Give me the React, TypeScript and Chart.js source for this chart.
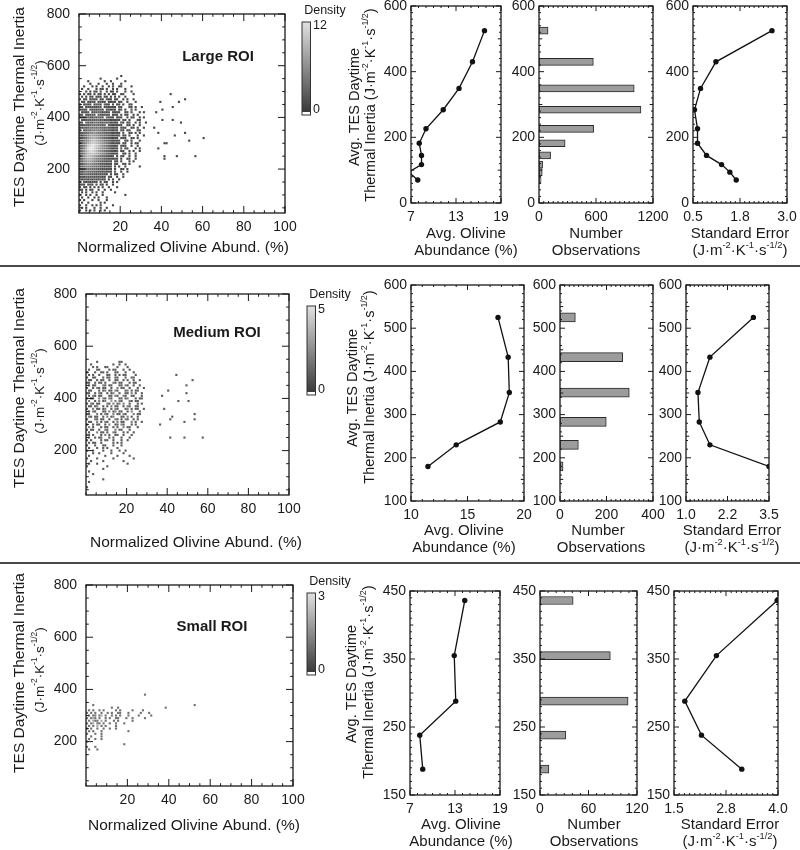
import React, { useEffect, useRef } from 'react';
import { Chart, registerables } from 'chart.js';

Chart.register(...registerables);

const FONT = "'Liberation Sans', Arial, Helvetica, sans-serif";
const INK = '#1a1a1a';
Chart.defaults.font.family = FONT;
Chart.defaults.color = INK;

// ======================= DATA =======================
// Heat-map tick values (shared)
const heatXTicks = [20, 40, 60, 80, 100];
const heatYTicks = [200, 400, 600, 800];

// ---- Large ROI ----
const largeTIBins = [525, 430, 349, 284, 226, 182, 145, 117, 94, 70];
const largeAvgOlivine = [16.8, 15.2, 13.4, 11.3, 9.0, 8.1, 8.4, 8.4, 6.7, 7.9];
const largeNumObs = [95, 572, 1002, 1073, 575, 275, 122, 38, 34, 22];
const largeStdErr = [2.6, 1.11, 0.7, 0.54, 0.62, 0.62, 0.86, 1.26, 1.48, 1.65];
const largeOlivTicks = [7, 13, 19];
const largeObsTicks = [0, 600, 1200];
const largeErrTicks = [0.5, 1.75, 3.0];
const largeErrLabels = ['0.5', '1.8', '3.0'];
const largeTITicks = [0, 200, 400, 600];
const largeDensityMax = 12;
// density grid: rows from TI=560 down to 40 (step 10), column = olivine % (1 per char); hex digit = count
const largeGrid = [
  '....................1',
  '..........1.......1',
  '....1.......1..1......1',
  '.....1...1...1..1...1',
  '..1...1.1..1..1.1..11....1',
  '.1..1...1.11.1..1.1...1',
  '...1.1.11.1..1.11.1...1..1',
  '1.1.11.1.11.1.1.11..11....1',
  '.1.1.11.111.11.1.1.1..1',
  '1.11.1211.11.211.11..1.1..1',
  '.11.1121.1211.1121.11..1...1',
  '1.1211.1221.211.1.11.1..11',
  '11.12121122.121211.21...11.1..1',
  '1211.2121221.12121.12.1..1.1',
  '.1212.122321212.2121..11.1...1.1',
  '12.21232.321222.121.2.11..1.1',
  '121232132322.3221.121..1.11..1.1',
  '.2123232332312212121.21.1...11',
  '12.3232433223231211.21.11..1.1..1',
  '2123234343323.2212121..11.1..1',
  '1232343434332322121.211..11.1..1',
  '2.23435454432322121.21.11...11',
  '12334556544332321211.2..11.1.1',
  '21345676654433221212.11.1...1..1',
  '1234678876543322121.211..11.1',
  '22456899876543321212..11.1...1',
  '134689aa987654321211.21..1.11',
  '2357abcba9765432212.211..1..1',
  '1358bccb98765432121.2.11...1.1',
  '2468abba97654332212.11..1.1..1',
  '135799a987654322121..11.1..1',
  '24689987654332212.1.21..1..1',
  '1357887654432212121.1..11..1',
  '2356776543322121.21.1...1.1',
  '1245665443222121.21..11.1',
  '2345554433221212.1.1..1......1',
  '1234443332212121.1..11.1',
  '2134333221212121.2..1..1',
  '12333222121211.1.11..1',
  '1213222121211.21..1..1',
  '2122121211211.1.1..1',
  '1.2121211.1.11..1.1',
  '121.121.1.11.1..1',
  '1.11.1.1.1.1..1...1',
  '11.1.11..1..1..1',
  '.1.1..1.1..1.....1',
  '1..1.1..1..1..........1',
  '.1..1..1.1...1',
  '1.1...1..1...1',
  '.1..1.....1.1',
  '1..1..1.1.1.....1',
  '.1.1...1..1..1',
  '1..1.1.1..1.1',
];
const largeGridTop = 560;
const largeOutliers = [
  [44.5, 490, 1], [39.5, 460, 1], [48.5, 460, 1], [51.5, 470, 1], [45.5, 440, 1], [40.5, 430, 1],
  [37.5, 420, 1], [40.5, 390, 1], [45.5, 390, 1], [49.5, 380, 1], [36.5, 360, 1], [38.5, 340, 1],
  [51.5, 340, 1], [46.5, 330, 1], [60.5, 320, 1], [53.5, 310, 1], [41.5, 300, 1], [42.5, 300, 1],
  [38.5, 280, 1], [56.5, 250, 1], [47.5, 250, 1], [41.5, 250, 1], [41.5, 240, 1],
];

// ---- Medium ROI ----
const mediumTIBins = [525, 433, 351, 283, 230, 180];
const mediumAvgOlivine = [17.7, 18.6, 18.7, 17.9, 14.0, 11.5];
const mediumNumObs = [66, 270, 298, 199, 79, 13];
const mediumStdErr = [3.03, 1.72, 1.36, 1.4, 1.72, 3.5];
const mediumOlivTicks = [10, 15, 20];
const mediumObsTicks = [0, 200, 400];
const mediumErrTicks = [1.0, 2.25, 3.5];
const mediumErrLabels = ['1.0', '2.2', '3.5'];
const mediumTITicks = [100, 200, 300, 400, 500, 600];
const mediumDensityMax = 5;
const mediumGrid = [
  '.....1..........11',
  '..1..........1..1..1',
  '...1.1...11....1....1',
  '.1...11....1.11...1..1',
  '1...1..11.1...11...1...1',
  '.1.1..1...11..1.1.11....1',
  '1..11...1.11..11...1..11',
  '.11..1.11..1..11..1.1..1..1',
  '11..1.11.1...21.11...1.11',
  '.1.11...21.11...11.21..1..1',
  '1..1.21.11..1..2.11..1...1..1',
  '.11...1.12.11.21...12.1.11',
  '11..1.21..1.12..1..11.2.1..1',
  '.1.21.11...11.21..21..11...1',
  '1.11..2.21.21...11.12...1.11',
  '.2..1.2.12..3.2.21...21.11',
  '1.21.11...21.2.12.2..1...1.1',
  '.11.12..1.1.2.11..1.21..11',
  '1..2.11.12..1.21...12.1.11..1',
  '.1.21...11.2.12.11..1.2...1',
  '11...2.1.21..2.11.21...2.11',
  '.21.11..1.2.12...11.2.1..1',
  '1...21.11..1..21.1.21..1.1',
  '.11..2.1.21..1.2.11...2.1..1',
  '1..1.11..1.2..11.21...1.1',
  '.2.1...1.11..1.1..2.11...1',
  '1.11..1..21...2.11...1',
  '.1...2.11.1..21...1.1..1',
  '11.1...1.2.1..11..1...1',
  '.1..1.11...1.1...1...1',
  '1.1....1.11..1...1..1',
  '.1.11..1.....1.1.1',
  '1...1...11...1...1',
  '.1...1..1.1....1',
  '1..1....1...1...1..1',
  '...1..1.....1.....1',
  '.1.......1.....1.....1',
  '1....1.......1.........1',
  '..1.....1.........1',
  '.1...1..............1',
  '1.........1',
  '........1',
  '.1',
  '...1',
  '',
  '........1',
  '.1',
  '',
  '1',
];
const mediumGridTop = 540;
const mediumOutliers = [
  [44.5, 490, 1], [52.5, 470, 1], [49.5, 450, 1], [40.5, 430, 1], [49.5, 420, 1], [45.5, 390, 1],
  [50.5, 390, 1], [42.5, 330, 1], [53.5, 340, 1], [53.5, 320, 1], [48.5, 310, 1], [41.5, 320, 1],
  [41.5, 250, 1], [48.5, 250, 1], [57.5, 250, 1], [36.5, 300, 1], [38.5, 360, 1], [37.5, 410, 1],
];

// ---- Small ROI ----
const smallTIBins = [436, 355, 288, 238, 188];
const smallAvgOlivine = [14.3, 12.9, 13.1, 8.3, 8.7];
const smallNumObs = [41, 87, 109, 32, 11];
const smallStdErr = [3.98, 2.52, 1.76, 2.16, 3.13];
const smallOlivTicks = [7, 13, 19];
const smallObsTicks = [0, 60, 120];
const smallErrTicks = [1.5, 2.75, 4.0];
const smallErrLabels = ['1.5', '2.8', '4.0'];
const smallTITicks = [150, 250, 350, 450];
const smallDensityMax = 3;
const smallGrid = [
  '............................1',
  '',
  '',
  '',
  '...1',
  '............1..1',
  '.1.1..1.1.....1.1.....1....1',
  '1.1.1..1..1.1..11...1.....1...1',
  '.1.11.12.1..1.1.1...1....1.....1',
  '1.121.1..1.1..11...1..1.....1',
  '.1.211.2.1...1.1......1',
  '1.12.11.1..1..1...1',
  '.1.1.2.1.1....1',
  '1.1..1..1..1..1',
  '.1.1...1............1',
  '1...1..1',
  '..1....1',
  '.1..1..1',
  '1',
  '..................1',
  '1...1',
  '.1...1',
];
const smallGridTop = 380;
const smallOutliers = [[52.5, 340, 1], [38.5, 330, 1]];

// ======================= HELPERS =======================
const PAGE_W = 800;
const PAGE_H = 850;
const Y_AXIS_W = 50;
const X_AXIS_H = 30;

type Area = { l: number; r: number; t: number; b: number };

const shade = (f: number) => {
  const g = Math.round(58 + 167 * Math.max(0, Math.min(1, f)));
  return `rgb(${g},${g},${g})`;
};

function gridToPoints(rows: string[], top: number, outl: number[][]) {
  const pts: { x: number; y: number; d: number }[] = [];
  rows.forEach((row, r) => {
    const y = top - 10 * r;
    for (let i = 0; i < row.length; i++) {
      const c = row[i];
      if (c === '.' || c === ' ') continue;
      pts.push({ x: i + 0.5, y, d: parseInt(c, 16) });
    }
  });
  outl.forEach(([x, y, d]) => pts.push({ x, y, d }));
  return pts;
}

function layoutFor(a: Area) {
  return {
    padding: {
      left: a.l - Y_AXIS_W,
      right: PAGE_W - a.r,
      top: a.t,
      bottom: PAGE_H - a.b - X_AXIS_H,
    },
  };
}

function axisCfg(min: number, max: number, ticks: number[], labels: string[], isX: boolean, pad: number) {
  return {
    type: 'linear',
    min,
    max,
    offset: false,
    grid: { display: false, drawTicks: false, offset: false },
    border: { display: false },
    ticks: {
      autoSkip: false,
      maxRotation: 0,
      minRotation: 0,
      padding: pad,
      font: { size: 14 },
      color: INK,
      callback: (_v: any, i: number) => labels[i],
    },
    afterBuildTicks: (s: any) => {
      s.ticks = ticks.map((v) => ({ value: v }));
    },
    afterFit: (s: any) => {
      if (isX) s.height = X_AXIS_H;
      else s.width = Y_AXIS_W;
      s.paddingLeft = 0;
      s.paddingRight = 0;
      s.paddingTop = 0;
      s.paddingBottom = 0;
    },
  };
}

type FrameOpts = {
  xMajor: number[]; xMid?: number; xMinor?: number;
  yMajor: number[]; yMid?: number; yMinor?: number;
  len: number;
};

function tickList(min: number, max: number, majors: number[], mid: number | undefined, minor: number | undefined, len: number) {
  const eps = (max - min) * 1e-5;
  const out: { v: number; len: number }[] = majors.map((v) => ({ v, len }));
  const has = (v: number) => out.some((t) => Math.abs(t.v - v) < eps * 10);
  const add = (step: number | undefined, l: number) => {
    if (!step) return;
    for (let k = Math.ceil((min - eps) / step); k * step <= max + eps; k++) {
      const v = k * step;
      if (!has(v)) out.push({ v, len: l });
    }
  };
  add(mid, len * 0.65);
  add(minor, len * 0.4);
  return out.filter((t) => t.v >= min - eps && t.v <= max + eps);
}

function makeFrame(o: FrameOpts) {
  return {
    id: 'frame',
    afterDatasetsDraw(chart: any) {
      const { ctx, chartArea: a } = chart;
      const xs = chart.scales.x;
      const ys = chart.scales.y;
      ctx.save();
      ctx.strokeStyle = INK;
      ctx.lineWidth = 1;
      ctx.beginPath();
      for (const t of tickList(xs.min, xs.max, o.xMajor, o.xMid, o.xMinor, o.len)) {
        const p = xs.getPixelForValue(t.v);
        ctx.moveTo(p, a.bottom);
        ctx.lineTo(p, a.bottom - t.len);
        ctx.moveTo(p, a.top);
        ctx.lineTo(p, a.top + t.len);
      }
      for (const t of tickList(ys.min, ys.max, o.yMajor, o.yMid, o.yMinor, o.len)) {
        const p = ys.getPixelForValue(t.v);
        ctx.moveTo(a.left, p);
        ctx.lineTo(a.left + t.len, p);
        ctx.moveTo(a.right, p);
        ctx.lineTo(a.right - t.len, p);
      }
      ctx.stroke();
      ctx.lineWidth = 1.3;
      ctx.strokeRect(a.left, a.top, a.right - a.left, a.bottom - a.top);
      ctx.restore();
    },
  };
}

type Item =
  | { k: 'text'; t: string; x: number; y: number; s: number; b?: boolean; r?: number; a?: 'left' | 'center' | 'right' }
  | { k: 'line'; x1: number; y1: number; x2: number; y2: number; w: number }
  | { k: 'cbar'; x: number; y: number; w: number; h: number };

function drawRich(ctx: CanvasRenderingContext2D, it: any) {
  const segs: { s: string; sup: boolean }[] = [];
  const re = /\^\{([^}]*)\}/g;
  let last = 0;
  let m: RegExpExecArray | null;
  while ((m = re.exec(it.t))) {
    if (m.index > last) segs.push({ s: it.t.slice(last, m.index), sup: false });
    segs.push({ s: m[1], sup: true });
    last = re.lastIndex;
  }
  if (last < it.t.length) segs.push({ s: it.t.slice(last), sup: false });
  const size = it.s;
  const f = (sup: boolean) => `${it.b ? 'bold ' : ''}${sup ? size * 0.62 : size}px ${FONT}`;
  let total = 0;
  const widths = segs.map((sg) => {
    ctx.font = f(sg.sup);
    const w = ctx.measureText(sg.s).width;
    total += w;
    return w;
  });
  ctx.save();
  ctx.translate(it.x, it.y);
  if (it.r) ctx.rotate((it.r * Math.PI) / 180);
  let cx = it.a === 'left' ? 0 : it.a === 'right' ? -total : -total / 2;
  ctx.textBaseline = 'middle';
  ctx.textAlign = 'left';
  ctx.fillStyle = INK;
  segs.forEach((sg, i) => {
    ctx.font = f(sg.sup);
    ctx.fillText(sg.s, cx, sg.sup ? -size * 0.36 : 0);
    cx += widths[i];
  });
  ctx.restore();
}

function makeDecor(items: Item[]) {
  return {
    id: 'decor',
    afterDraw(chart: any) {
      const ctx: CanvasRenderingContext2D = chart.ctx;
      items.forEach((it) => {
        if (it.k === 'text') drawRich(ctx, it);
        else if (it.k === 'line') {
          ctx.save();
          ctx.strokeStyle = '#4a4a4a';
          ctx.lineWidth = it.w;
          ctx.beginPath();
          ctx.moveTo(it.x1, it.y1);
          ctx.lineTo(it.x2, it.y2);
          ctx.stroke();
          ctx.restore();
        } else if (it.k === 'cbar') {
          ctx.save();
          const stripe = 3;
          const g = ctx.createLinearGradient(0, it.y + it.h - stripe, 0, it.y);
          g.addColorStop(0, shade(0));
          g.addColorStop(1, shade(1));
          ctx.fillStyle = g;
          ctx.fillRect(it.x, it.y, it.w, it.h - stripe);
          ctx.fillStyle = '#fff';
          ctx.fillRect(it.x, it.y + it.h - stripe, it.w, stripe);
          ctx.strokeStyle = '#333';
          ctx.lineWidth = 1;
          ctx.strokeRect(it.x, it.y, it.w, it.h);
          ctx.restore();
        }
      });
    },
  };
}

const baseOptions = (area: Area, x: any, y: any, extra: any = {}) => ({
  animation: false,
  responsive: false,
  devicePixelRatio: 1,
  events: [],
  layout: layoutFor(area),
  scales: { x, y },
  plugins: { legend: { display: false }, tooltip: { enabled: false }, title: { display: false } },
  ...extra,
});

const lbl = (arr: number[]) => arr.map((v) => String(v));
const UNITS = '(J·m^{-2}·K^{-1}·s^{-1/2})';

function heatmapConfig(pts: any[], maxD: number, area: Area, items: Item[]) {
  return {
    type: 'scatter',
    data: {
      datasets: [
        {
          data: pts,
          pointStyle: 'rect',
          pointRadius: 1.5,
          pointHoverRadius: 1.5,
          pointBorderWidth: 0,
          borderWidth: 0,
          backgroundColor: (c: any) => shade((c.raw ? c.raw.d : 0) / maxD),
          clip: 0,
        },
      ],
    },
    options: baseOptions(
      area,
      axisCfg(0, 100, heatXTicks, lbl(heatXTicks), true, 6),
      axisCfg(30, 800, heatYTicks, lbl(heatYTicks), false, 9),
    ),
    plugins: [makeFrame({ xMajor: heatXTicks, xMinor: 5, yMajor: heatYTicks, yMinor: 50, len: 7 }), makeDecor(items)],
  };
}

function lineConfig(xv: number[], yv: number[], area: Area, xr: number[], xt: number[], xl: string[], yr: number[], yt: number[], xMinor: number, yMid: number, yMinor: number, items: Item[]) {
  return {
    type: 'scatter',
    data: {
      datasets: [
        {
          data: xv.map((x, i) => ({ x, y: yv[i] })),
          showLine: true,
          borderColor: '#111',
          borderWidth: 1.3,
          pointRadius: 2.7,
          pointHoverRadius: 2.7,
          pointBackgroundColor: '#111',
          pointBorderWidth: 0,
          tension: 0,
          clip: 0,
        },
      ],
    },
    options: baseOptions(area, axisCfg(xr[0], xr[1], xt, xl, true, 6), axisCfg(yr[0], yr[1], yt, lbl(yt), false, 4)),
    plugins: [makeFrame({ xMajor: xt, xMinor, yMajor: yt, yMid, yMinor, len: 5 }), makeDecor(items)],
  };
}

function barConfig(counts: number[], bins: number[], area: Area, xr: number[], xt: number[], yr: number[], yt: number[], xMinor: number, yMid: number, yMinor: number, thick: number, items: Item[]) {
  return {
    type: 'bar',
    data: {
      datasets: [
        {
          data: counts.map((c, i) => ({ x: c, y: bins[i] })),
          backgroundColor: '#9c9c9c',
          borderColor: '#2a2a2a',
          borderWidth: 1,
          borderSkipped: false,
          barThickness: thick,
          clip: 0,
        },
      ],
    },
    options: baseOptions(area, axisCfg(xr[0], xr[1], xt, lbl(xt), true, 6), axisCfg(yr[0], yr[1], yt, lbl(yt), false, 4), {
      indexAxis: 'y',
    }),
    plugins: [makeFrame({ xMajor: xt, xMinor, yMajor: yt, yMid, yMinor, len: 5 }), makeDecor(items)],
  };
}

const txt = (t: string, x: number, y: number, s: number, extra: any = {}): Item => ({ k: 'text', t, x, y, s, ...extra });

function heatTexts(yC1: number, yC2: number, xTitleX: number, xTitleY: number, roi: string, roiX: number, roiY: number, cb: { x: number; y: number; h: number }, maxLabel: string): Item[] {
  return [
    txt('TES Daytime Thermal Inertia', 20, yC1, 15.5, { r: -90 }),
    txt(UNITS, 40, yC2, 13.5, { r: -90 }),
    txt('Normalized Olivine Abund. (%)', xTitleX, xTitleY, 15.5),
    txt(roi, roiX, roiY, 15, { b: true }),
    txt('Density', cb.x + 23, cb.y - 11, 12.5),
    { k: 'cbar', x: cb.x, y: cb.y, w: 8.5, h: cb.h },
    txt(maxLabel, cb.x + 11, cb.y + 4, 12.5, { a: 'left' }),
    txt('0', cb.x + 11, cb.y + cb.h - 5, 12.5, { a: 'left' }),
  ];
}

function panelTitles(x: number, y1: number, l1: string, l2: string, x2?: number): Item[] {
  return [txt(l1, x, y1, 15), txt(l2, x2 ?? x, y1 + 16.5, 15)];
}

function yTitles(x1: number, y1: number, x2: number, y2: number): Item[] {
  return [txt('Avg. TES Daytime', x1, y1, 14.5, { r: -90 }), txt('Thermal Inertia ' + UNITS, x2, y2, 14.5, { r: -90 })];
}

function buildConfigs() {
  const r1 = {
    heat: { l: 79, r: 285, t: 14, b: 213 },
    p1: { l: 411, r: 501, t: 6, b: 203 },
    p2: { l: 539, r: 653, t: 6, b: 203 },
    p3: { l: 693, r: 787, t: 6, b: 203 },
  };
  const r2 = {
    heat: { l: 86, r: 289, t: 294, b: 495 },
    p1: { l: 411, r: 524, t: 285, b: 501 },
    p2: { l: 560, r: 653, t: 285, b: 501 },
    p3: { l: 686, r: 769, t: 285, b: 501 },
  };
  const r3 = {
    heat: { l: 86, r: 293, t: 585, b: 786 },
    p1: { l: 410, r: 500, t: 591, b: 795 },
    p2: { l: 540, r: 637, t: 591, b: 795 },
    p3: { l: 674, r: 778, t: 591, b: 795 },
  };

  const cfgs: any[] = [];

  // Row 1
  cfgs.push(
    heatmapConfig(gridToPoints(largeGrid, largeGridTop, largeOutliers), largeDensityMax, r1.heat, [
      ...heatTexts(107, 103, 183, 248, 'Large ROI', 218, 57, { x: 302, y: 22, h: 93 }, String(largeDensityMax)),
      { k: 'line', x1: 0, y1: 266, x2: 800, y2: 266, w: 2 },
    ]),
  );
  cfgs.push(
    lineConfig(largeAvgOlivine, largeTIBins, r1.p1, [7, 19], largeOlivTicks, lbl(largeOlivTicks), [0, 600], largeTITicks, 1, 100, 20, [
      ...yTitles(355, 107, 371, 105),
      ...panelTitles(466, 234, 'Avg. Olivine', 'Abundance (%)'),
    ]),
  );
  cfgs.push(
    barConfig(largeNumObs, largeTIBins, r1.p2, [0, 1200], largeObsTicks, [0, 600], largeTITicks, 50, 100, 20, 7, [
      ...panelTitles(596, 234, 'Number', 'Observations'),
    ]),
  );
  cfgs.push(
    lineConfig(largeStdErr, largeTIBins, r1.p3, [0.5, 3.0], largeErrTicks, largeErrLabels, [0, 600], largeTITicks, 0.125, 100, 20, [
      ...panelTitles(740, 234, 'Standard Error', UNITS),
    ]),
  );

  // Row 2
  cfgs.push(
    heatmapConfig(gridToPoints(mediumGrid, mediumGridTop, mediumOutliers), mediumDensityMax, r2.heat, [
      ...heatTexts(388, 391, 196, 543, 'Medium ROI', 217, 333, { x: 307, y: 306, h: 89 }, String(mediumDensityMax)),
      { k: 'line', x1: 0, y1: 563, x2: 800, y2: 563, w: 2 },
    ]),
  );
  cfgs.push(
    lineConfig(mediumAvgOlivine, mediumTIBins, r2.p1, [10, 20], mediumOlivTicks, lbl(mediumOlivTicks), [100, 600], mediumTITicks, 1, 50, 20, [
      ...yTitles(353, 388, 370, 387),
      ...panelTitles(464, 531, 'Avg. Olivine', 'Abundance (%)'),
    ]),
  );
  cfgs.push(
    barConfig(mediumNumObs, mediumTIBins, r2.p2, [0, 400], mediumObsTicks, [100, 600], mediumTITicks, 20, 50, 20, 9, [
      ...panelTitles(598, 531, 'Number', 'Observations', 601),
    ]),
  );
  cfgs.push(
    lineConfig(mediumStdErr, mediumTIBins, r2.p3, [1.0, 3.5], mediumErrTicks, mediumErrLabels, [100, 600], mediumTITicks, 0.125, 50, 20, [
      ...panelTitles(732, 531, 'Standard Error', UNITS),
    ]),
  );

  // Row 3
  cfgs.push(
    heatmapConfig(gridToPoints(smallGrid, smallGridTop, smallOutliers), smallDensityMax, r3.heat, [
      ...heatTexts(673, 670, 194, 826, 'Small ROI', 212, 627, { x: 307, y: 593, h: 82 }, String(smallDensityMax)),
    ]),
  );
  cfgs.push(
    lineConfig(smallAvgOlivine, smallTIBins, r3.p1, [7, 19], smallOlivTicks, lbl(smallOlivTicks), [150, 450], smallTITicks, 1, 50, 10, [
      ...yTitles(352, 684, 369, 682),
      ...panelTitles(461, 825, 'Avg. Olivine', 'Abundance (%)'),
    ]),
  );
  cfgs.push(
    barConfig(smallNumObs, smallTIBins, r3.p2, [0, 120], smallObsTicks, [150, 450], smallTITicks, 10, 50, 10, 8, [
      ...panelTitles(594, 825, 'Number', 'Observations'),
    ]),
  );
  cfgs.push(
    lineConfig(smallStdErr, smallTIBins, r3.p3, [1.5, 4.0], smallErrTicks, smallErrLabels, [150, 450], smallTITicks, 0.125, 50, 10, [
      ...panelTitles(730, 825, 'Standard Error', UNITS),
    ]),
  );
  return cfgs;
}

export default function App() {
  const refs = useRef<(HTMLCanvasElement | null)[]>([]);
  useEffect(() => {
    const cfgs = buildConfigs();
    const charts = cfgs.map((cfg, i) => new Chart(refs.current[i] as HTMLCanvasElement, cfg));
    return () => charts.forEach((c) => c.destroy());
  }, []);
  return (
    <div style={{ position: 'absolute', left: 0, top: 0, width: PAGE_W, height: PAGE_H, background: '#fff', overflow: 'hidden' }}>
      {Array.from({ length: 12 }).map((_, i) => (
        <canvas
          key={i}
          ref={(el) => {
            refs.current[i] = el;
          }}
          width={PAGE_W}
          height={PAGE_H}
          style={{ position: 'absolute', left: 0, top: 0, width: PAGE_W, height: PAGE_H }}
        />
      ))}
    </div>
  );
}
